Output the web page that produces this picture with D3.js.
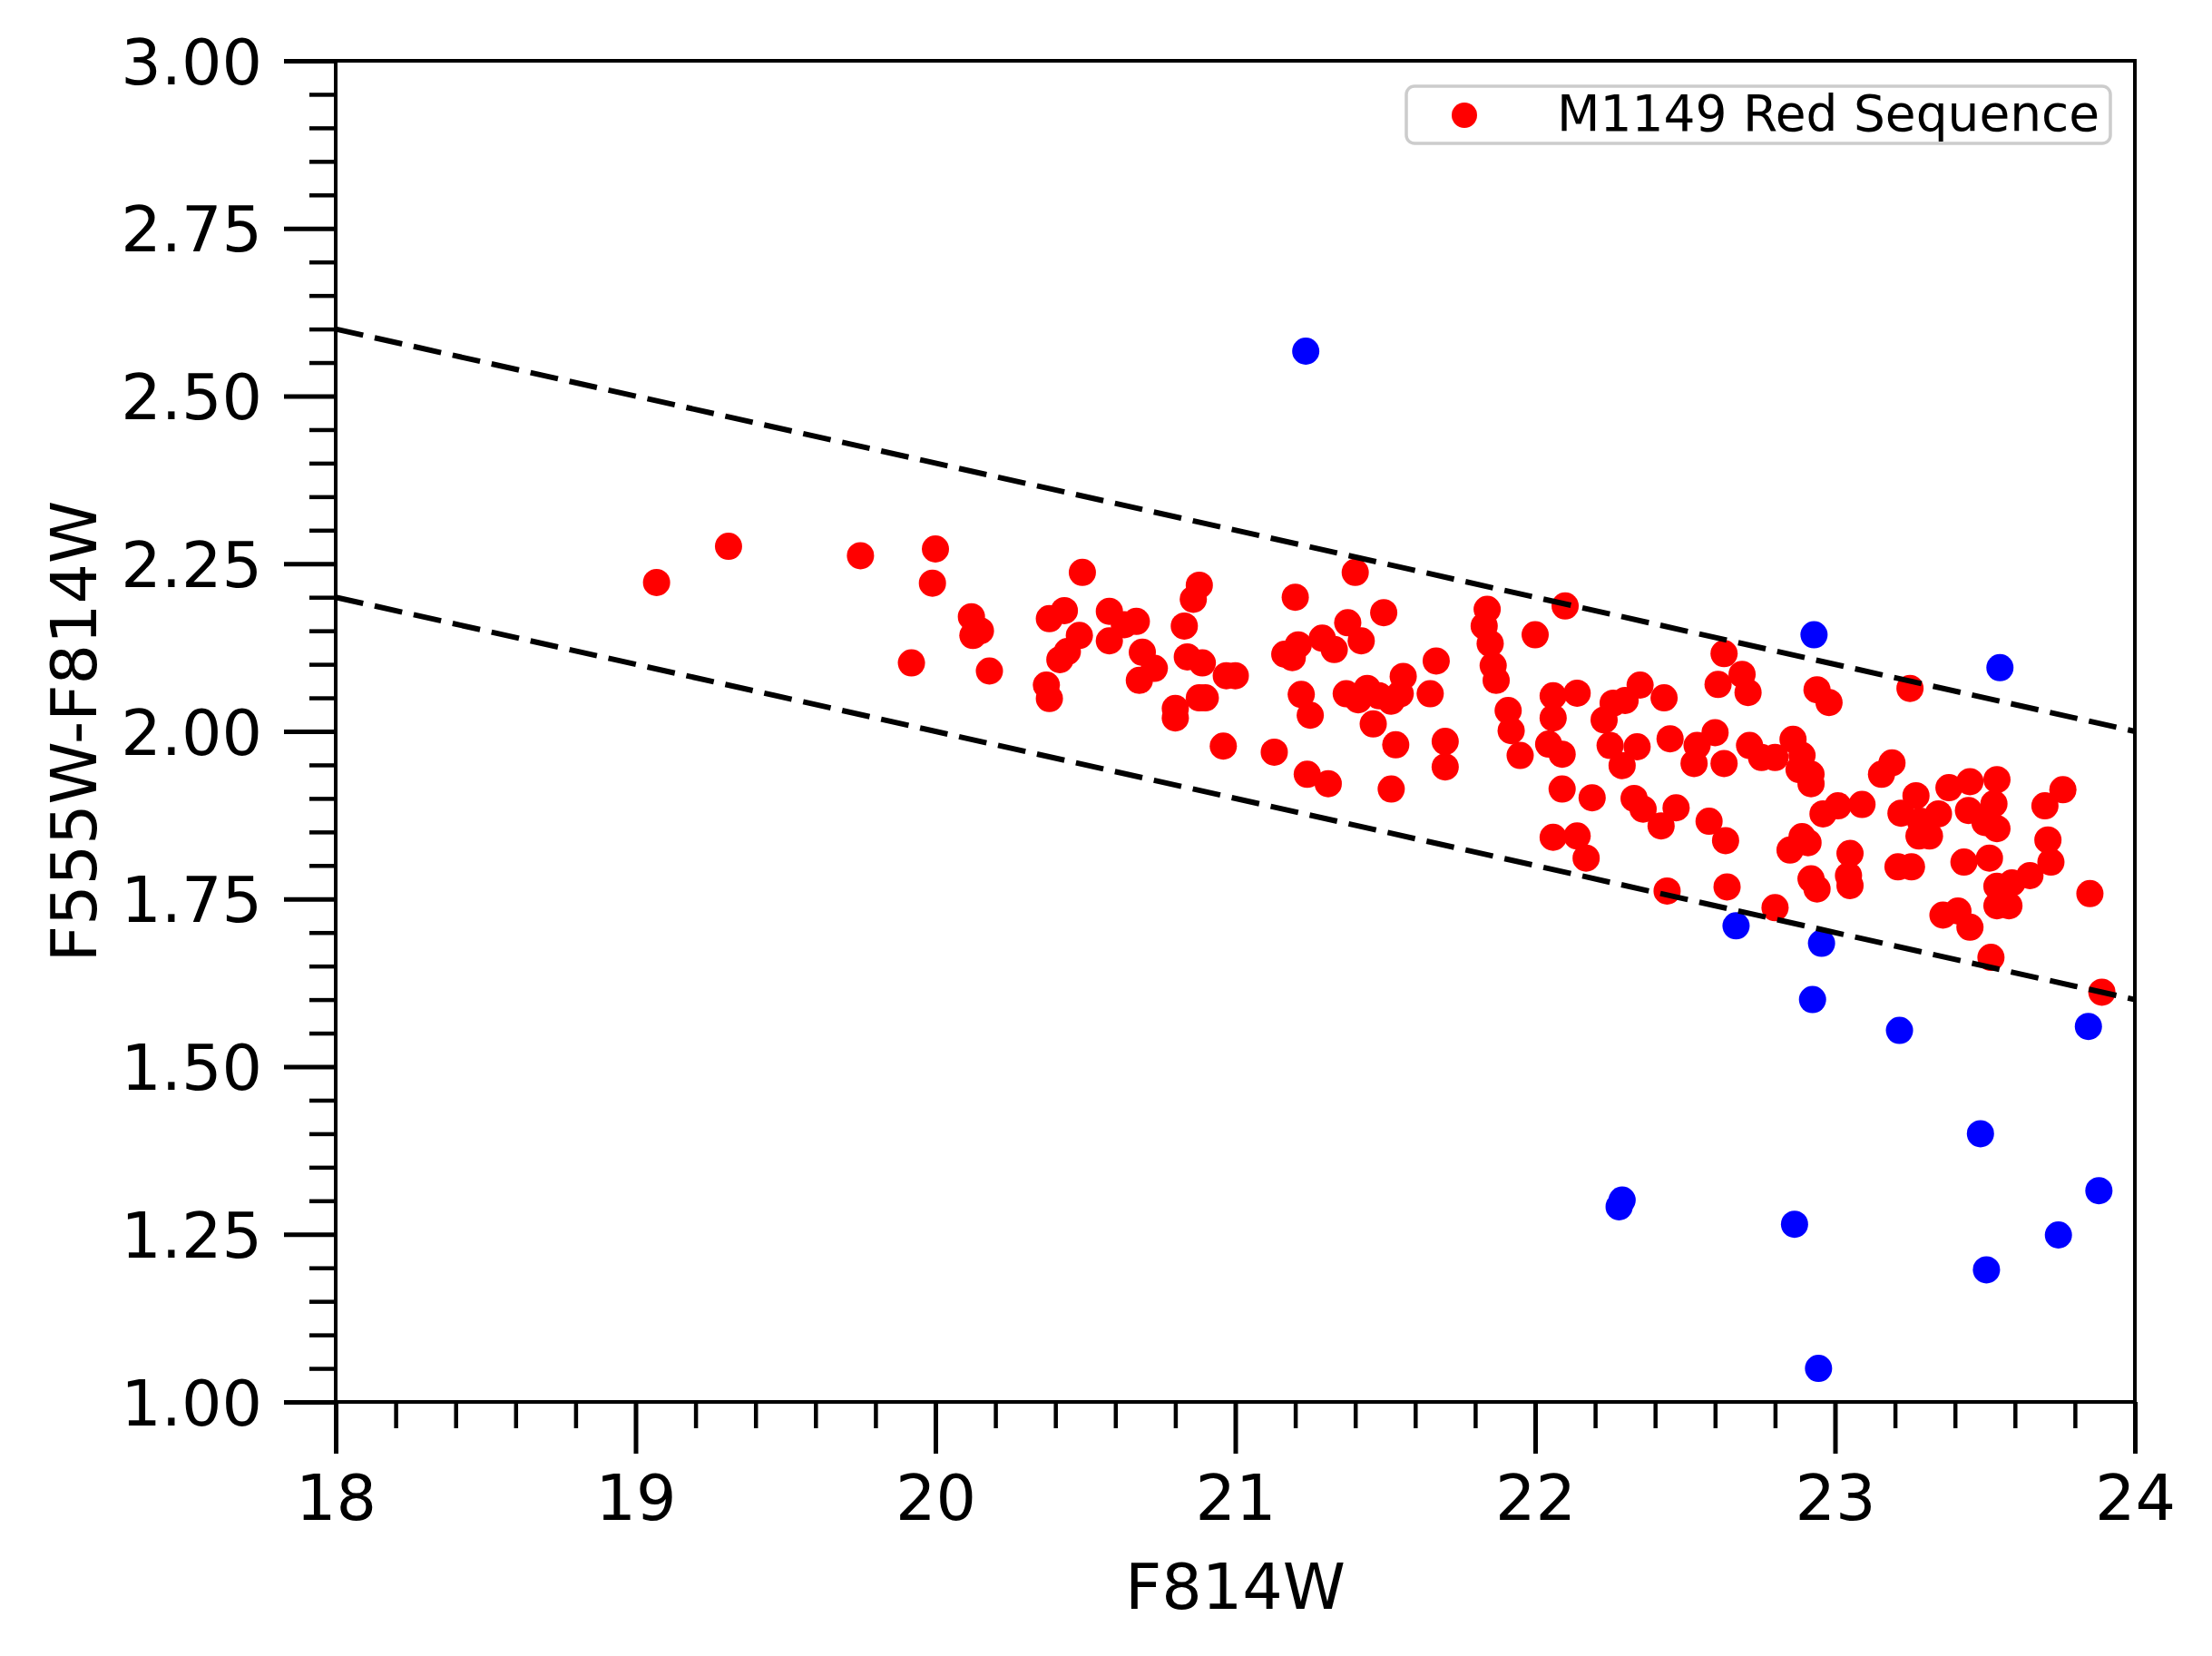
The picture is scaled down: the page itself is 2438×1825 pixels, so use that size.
<!DOCTYPE html>
<html>
<head>
<meta charset="utf-8">
<script src="https://cdnjs.cloudflare.com/ajax/libs/d3/7.8.5/d3.min.js"></script>
<style>
body { margin: 0; background: #fff; }
text { font-family: "DejaVu Sans", sans-serif; }
</style>
</head>
<body>
<div id="chart"></div>
<script>
// red sequence members [F814W, F555W-F814W]
const redPoints = [
    [19.07,2.222],[19.31,2.276],[19.75,2.262],[20.00,2.272],[19.99,2.221],[19.92,2.102],
    [20.12,2.171],[20.15,2.150],[20.125,2.143],[20.18,2.090],[20.49,2.237],[20.38,2.168],
    [20.43,2.180],[20.48,2.143],[20.44,2.119],[20.415,2.107],[20.37,2.069],[20.38,2.049],
    [20.58,2.179],[20.58,2.135],[20.63,2.159],[20.67,2.164],[20.69,2.118],[20.73,2.094],
    [20.68,2.076],[20.88,2.218],[20.86,2.197],[20.83,2.157],[20.84,2.111],[20.89,2.102],
    [20.97,2.083],[21.00,2.083],[20.88,2.050],[20.90,2.050],[20.80,2.034],[20.80,2.020],
    [20.96,1.978],[21.13,1.969],[21.20,2.200],[21.21,2.129],[21.19,2.110],[21.165,2.115],
    [21.29,2.139],[21.33,2.122],[21.22,2.055],[21.25,2.024],[21.24,1.936],[21.31,1.922],
    [21.40,2.237],[21.375,2.162],[21.42,2.135],[21.495,2.177],[21.37,2.056],[21.41,2.047],
    [21.44,2.064],[21.48,2.053],[21.52,2.045],[21.56,2.082],[21.55,2.056],[21.46,2.011],
    [21.535,1.980],[21.52,1.914],[21.67,2.105],[21.65,2.056],[21.70,1.985],[21.70,1.947],
    [21.84,2.182],[21.83,2.157],[21.85,2.131],[21.86,2.098],[21.87,2.076],[21.91,2.031],
    [21.92,2.001],[21.95,1.964],[22.00,2.144],[22.10,2.187],[22.06,2.053],[22.06,2.020],
    [22.045,1.981],[22.09,1.966],[22.14,2.057],[22.09,1.914],[22.19,1.901],[22.06,1.842],
    [22.14,1.844],[22.17,1.811],
    [22.63,2.116],[22.69,2.085],[22.61,2.070],[22.71,2.058],[22.94,2.062],[22.98,2.043],
    [22.35,2.069],[22.43,2.050],[22.30,2.046],[22.26,2.042],[22.23,2.017],[22.25,1.979],
    [22.34,1.977],[22.29,1.949],[22.45,1.989],[22.60,1.998],[22.54,1.979],[22.53,1.952],
    [22.63,1.952],[22.715,1.979],[22.755,1.961],[22.80,1.961],[22.86,1.988],[22.89,1.964],
    [22.88,1.943],[22.92,1.936],[22.92,1.922],[22.33,1.900],[22.36,1.884],[22.42,1.859],
    [22.47,1.886],[22.58,1.866],[22.635,1.837],[22.96,1.877],[23.01,1.889],[23.09,1.891],
    [22.89,1.843],[22.91,1.834],[22.85,1.823],[23.05,1.818],[23.045,1.785],[23.05,1.770],
    [22.92,1.780],[22.94,1.765],[22.44,1.762],[22.64,1.768],[22.80,1.737],
    [23.25,2.064],[23.19,1.953],[23.155,1.936],[23.27,1.904],[23.22,1.878],[23.285,1.866],
    [23.315,1.844],[23.28,1.844],[23.345,1.877],[23.38,1.916],[23.45,1.925],[23.54,1.928],
    [23.53,1.892],[23.445,1.882],[23.50,1.864],[23.54,1.855],[23.76,1.913],[23.70,1.889],
    [23.71,1.838],[23.72,1.805],[23.65,1.785],[23.59,1.774],[23.54,1.769],[23.54,1.740],
    [23.58,1.740],[23.43,1.805],[23.515,1.811],[23.21,1.798],[23.255,1.798],[23.36,1.726],
    [23.41,1.732],[23.45,1.708],[23.52,1.663],[23.85,1.758],[23.89,1.611]
];

// objects outside the red sequence
const bluePoints = [
    [21.235,2.567],[22.93,2.144],[23.55,2.095],[22.67,1.710],[22.955,1.684],[22.925,1.600],
    [23.215,1.554],[23.845,1.560],[23.485,1.400],[23.88,1.315],[22.29,1.301],[22.28,1.291],
    [22.865,1.265],[23.745,1.249],[23.505,1.197],[22.945,1.050]
];

// selection boundaries
const upperCut = [[18, 2.6], [24, 2.0]];
const lowerCut = [[18, 2.2], [24, 1.6]];

const xTicks = [18, 19, 20, 21, 22, 23, 24];
const yTicks = [1.00, 1.25, 1.50, 1.75, 2.00, 2.25, 2.50, 2.75, 3.00];

const width = 2438;
const height = 1825;
const margin = {top: 67, right: 85, bottom: 280, left: 370};

const svg = d3.select("#chart")
    .append("svg")
    .attr("width", width)
    .attr("height", height);

const x = d3.scaleLinear().domain([18, 24]).range([margin.left, width - margin.right]);
const y = d3.scaleLinear().domain([1, 3]).range([height - margin.bottom, margin.top]);

const xMinor = d3.range(18, 24.001, 0.2).filter(v => Math.abs(v - Math.round(v)) > 1e-6);
const yMinor = d3.range(1, 3.001, 0.05).filter(v => Math.abs(v * 4 - Math.round(v * 4)) > 1e-6);

// minor ticks
svg.append("g")
    .attr("transform", `translate(0,${height - margin.bottom})`)
    .call(d3.axisBottom(x).tickValues(xMinor).tickSize(29).tickFormat(""))
    .call(g => g.select(".domain").remove())
    .call(g => g.selectAll(".tick line").attr("stroke-width", 4.5));

svg.append("g")
    .attr("transform", `translate(${margin.left},0)`)
    .call(d3.axisLeft(y).tickValues(yMinor).tickSize(29).tickFormat(""))
    .call(g => g.select(".domain").remove())
    .call(g => g.selectAll(".tick line").attr("stroke-width", 4.5));

// major ticks + labels
svg.append("g")
    .attr("transform", `translate(0,${height - margin.bottom})`)
    .call(d3.axisBottom(x).tickValues(xTicks).tickSize(57).tickPadding(23).tickFormat(d3.format("d")))
    .call(g => g.select(".domain").remove())
    .call(g => g.selectAll(".tick line").attr("stroke-width", 5))
    .call(g => g.selectAll(".tick text")
        .attr("font-size", 70)
        .attr("font-family", "DejaVu Sans")
        .attr("fill", "#000"));

svg.append("g")
    .attr("transform", `translate(${margin.left},0)`)
    .call(d3.axisLeft(y).tickValues(yTicks).tickSize(57).tickPadding(24).tickFormat(d3.format(".2f")))
    .call(g => g.select(".domain").remove())
    .call(g => g.selectAll(".tick line").attr("stroke-width", 5))
    .call(g => g.selectAll(".tick text")
        .attr("font-size", 70)
        .attr("font-family", "DejaVu Sans")
        .attr("dy", "0.36em")
        .attr("fill", "#000"));

// data
const plot_g = svg.append("g");

plot_g.selectAll("circle.red")
    .data(redPoints)
    .join("circle")
    .attr("class", "red")
    .attr("cx", d => x(d[0]))
    .attr("cy", d => y(d[1]))
    .attr("r", 15)
    .attr("fill", "#ff0000");

plot_g.selectAll("circle.blue")
    .data(bluePoints)
    .join("circle")
    .attr("class", "blue")
    .attr("cx", d => x(d[0]))
    .attr("cy", d => y(d[1]))
    .attr("r", 15)
    .attr("fill", "#0000ff");

const line = d3.line().x(d => x(d[0])).y(d => y(d[1]));

[upperCut, lowerCut].forEach(cut => {
    plot_g.append("path")
        .attr("d", line(cut))
        .attr("fill", "none")
        .attr("stroke", "#000")
        .attr("stroke-width", 6)
        .attr("stroke-dasharray", "31,13");
});

// frame
svg.append("rect")
    .attr("x", margin.left)
    .attr("y", margin.top)
    .attr("width", width - margin.left - margin.right)
    .attr("height", height - margin.top - margin.bottom)
    .attr("fill", "none")
    .attr("stroke", "#000")
    .attr("stroke-width", 4);

// axis titles
svg.append("text")
    .attr("x", (margin.left + width - margin.right) / 2)
    .attr("y", 1773)
    .attr("text-anchor", "middle")
    .attr("font-size", 70)
    .text("F814W");

svg.append("text")
    .attr("transform", `translate(106,${(margin.top + height - margin.bottom) / 2}) rotate(-90)`)
    .attr("text-anchor", "middle")
    .attr("font-size", 70)
    .text("F555W-F814W");

// legend
const legend = svg.append("g");
legend.append("rect")
    .attr("x", 1550)
    .attr("y", 95)
    .attr("width", 776)
    .attr("height", 63)
    .attr("rx", 9)
    .attr("fill", "#fff")
    .attr("fill-opacity", 0.8)
    .attr("stroke", "#cccccc")
    .attr("stroke-width", 3.5);
legend.append("circle")
    .attr("cx", 1614)
    .attr("cy", 127)
    .attr("r", 14)
    .attr("fill", "#ff0000");
legend.append("text")
    .attr("x", 1716)
    .attr("y", 144)
    .attr("font-size", 55)
    .text("M1149 Red Sequence");
</script>
</body>
</html>
